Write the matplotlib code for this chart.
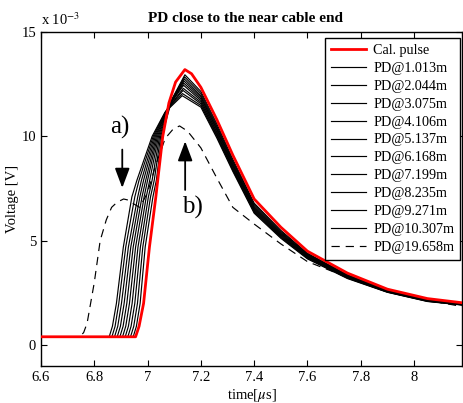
import matplotlib
matplotlib.use("Agg")
import matplotlib.pyplot as plt

plt.rcParams['font.family'] = ['Liberation Serif', 'DejaVu Serif']
plt.rcParams['mathtext.fontset'] = 'stix'

# voltages in units of 1e-3 V, time in us
baseline = 0.4

# calibration pulse (red)
cal_t = [6.6, 6.955, 6.968, 6.985, 7.007, 7.031, 7.057, 7.08, 7.105, 7.14, 7.165,
         7.2, 7.26, 7.32, 7.4, 7.5, 7.6, 7.75, 7.9, 8.05, 8.18]
cal_v = [0.4, 0.4, 0.9, 2.0, 4.7, 7.1, 10.0, 11.6, 12.6, 13.2, 13.0,
         12.35, 10.8, 9.1, 7.0, 5.65, 4.5, 3.45, 2.68, 2.23, 2.03]

pd_labels = ['PD@1.013m', 'PD@2.044m', 'PD@3.075m', 'PD@4.106m', 'PD@5.137m',
             'PD@6.168m', 'PD@7.199m', 'PD@8.235m', 'PD@9.271m', 'PD@10.307m']

# time at which each solid trace crosses these levels
rise_levels = [0.4, 0.9, 2.0, 4.7, 7.1, 7.9, 10.0]
pd_rise_t = [
    [6.946, 6.958, 6.972, 6.991, 7.020, 7.033, 7.053, 7.092, 7.140],
    [6.936, 6.948, 6.962, 6.982, 7.011, 7.025, 7.049, 7.089, 7.139],
    [6.926, 6.938, 6.952, 6.973, 7.003, 7.017, 7.045, 7.086, 7.138],
    [6.916, 6.928, 6.942, 6.964, 6.995, 7.008, 7.041, 7.083, 7.137],
    [6.906, 6.918, 6.932, 6.955, 6.987, 7.000, 7.037, 7.080, 7.136],
    [6.896, 6.908, 6.922, 6.946, 6.979, 6.993, 7.033, 7.077, 7.135],
    [6.886, 6.898, 6.912, 6.937, 6.971, 6.985, 7.029, 7.074, 7.134],
    [6.876, 6.888, 6.902, 6.928, 6.963, 6.977, 7.025, 7.071, 7.133],
    [6.866, 6.878, 6.892, 6.918, 6.952, 6.968, 7.021, 7.068, 7.131],
    [6.856, 6.868, 6.883, 6.909, 6.941, 6.960, 7.017, 7.065, 7.130],
]
pd_knee_v = [11.8, 11.7, 11.6, 11.55, 11.45, 11.4, 11.3, 11.25, 11.2, 11.15]
pd_peak_v = [12.95, 12.85, 12.75, 12.65, 12.55, 12.45, 12.3, 12.2, 12.05, 11.95]

decay_t = [7.2, 7.26, 7.32, 7.4, 7.5, 7.6, 7.75, 7.9, 8.05, 8.18]
pd_decay_v = [
    [12.15, 10.6, 8.9, 6.8, 5.5, 4.4, 3.37, 2.62, 2.18, 1.98],
    [12.05, 10.5, 8.82, 6.74, 5.45, 4.37, 3.35, 2.61, 2.17, 1.97],
    [11.95, 10.42, 8.75, 6.68, 5.4, 4.34, 3.33, 2.6, 2.16, 1.96],
    [11.88, 10.35, 8.68, 6.62, 5.36, 4.31, 3.31, 2.59, 2.15, 1.95],
    [11.8, 10.28, 8.62, 6.57, 5.32, 4.28, 3.29, 2.58, 2.14, 1.95],
    [11.72, 10.2, 8.56, 6.52, 5.28, 4.25, 3.27, 2.57, 2.13, 1.94],
    [11.64, 10.13, 8.5, 6.47, 5.24, 4.22, 3.25, 2.56, 2.12, 1.94],
    [11.56, 10.06, 8.44, 6.42, 5.2, 4.19, 3.23, 2.55, 2.11, 1.93],
    [11.48, 9.99, 8.38, 6.37, 5.16, 4.16, 3.21, 2.54, 2.1, 1.93],
    [11.4, 9.92, 8.32, 6.32, 5.12, 4.13, 3.19, 2.53, 2.09, 1.92],
]

# far PD (dashed)
far_label = 'PD@19.658m'
far_t = [6.6, 6.745, 6.76, 6.773, 6.80, 6.822, 6.845, 6.865, 6.886, 6.91, 6.927, 6.95,
         6.97, 7.0, 7.03, 7.066, 7.096, 7.12, 7.15, 7.2, 7.26, 7.32, 7.4, 7.5, 7.6,
         7.75, 7.9, 8.05, 8.18]
far_v = [0.4, 0.4, 0.6, 1.05, 3.0, 5.0, 6.0, 6.6, 6.85, 7.0, 6.95, 6.75,
         6.6, 7.3, 8.6, 9.9, 10.35, 10.5, 10.25, 9.45, 8.0, 6.6, 5.8, 4.85, 4.0,
         3.25, 2.55, 2.15, 1.85]

xticks = [6.6, 6.8, 7, 7.2, 7.4, 7.6, 7.8, 8]
xticklabels = ['6.6', '6.8', '7', '7.2', '7.4', '7.6', '7.8', '8']
yticks = [0, 5, 10, 15]

fig = plt.figure(figsize=(4.63, 4.03), dpi=100)
ax = fig.add_axes([41/463, 1-366/403, 421/463, 334/403])

ax.plot(cal_t, cal_v, color='r', lw=2.0, label='Cal. pulse', zorder=5)
for i in range(len(pd_labels)):
    t = [6.6] + pd_rise_t[i] + decay_t
    v = [baseline] + rise_levels + [pd_knee_v[i], pd_peak_v[i]] + pd_decay_v[i]
    ax.plot(t, v, color='k', lw=0.85, label=pd_labels[i], zorder=3)
ax.plot(far_t, far_v, color='k', lw=0.85, linestyle=(0, (7, 5)), label=far_label, zorder=4)

ax.set_xlim(6.6, 8.18)
ax.set_ylim(-1, 15)
ax.set_xticks(xticks)
ax.set_xticklabels(xticklabels)
ax.set_yticks(yticks)
ax.tick_params(direction='in', length=4, width=0.8, top=True, right=True, labelsize=10.5)
for s in ax.spines.values():
    s.set_linewidth(1.0)

ax.set_title('PD close to the near cable end', fontsize=11, fontweight='bold', pad=7, x=0.485)
ax.set_xlabel('time[$\\mu$s]', fontsize=10.5, labelpad=2)
ax.set_ylabel('Voltage [V]', fontsize=10.5, labelpad=2)
ax.text(0.0, 1.012, 'x 10$^{-3}$', transform=ax.transAxes, fontsize=10.5, ha='left', va='bottom')

# annotations
arrow = dict(arrowstyle='-|>,head_width=0.45,head_length=1.2', color='k', lw=1.3)
ax.annotate('', xy=(6.905, 7.4), xytext=(6.905, 9.5), arrowprops=arrow)
ax.text(6.895, 10.45, 'a)', fontsize=18, ha='center', va='center')
ax.annotate('', xy=(7.141, 9.9), xytext=(7.141, 7.3), arrowprops=arrow)
ax.text(7.168, 6.6, 'b)', fontsize=18, ha='center', va='center')

leg = ax.legend(loc='upper right', bbox_to_anchor=(0.995, 0.982), fontsize=10.2,
                frameon=True, fancybox=False, edgecolor='k', framealpha=1,
                handlelength=2.5, handletextpad=0.5, labelspacing=0.35,
                borderpad=0.4, borderaxespad=0)
leg.get_frame().set_linewidth(1.0)

fig.savefig('out.png', dpi=100)
